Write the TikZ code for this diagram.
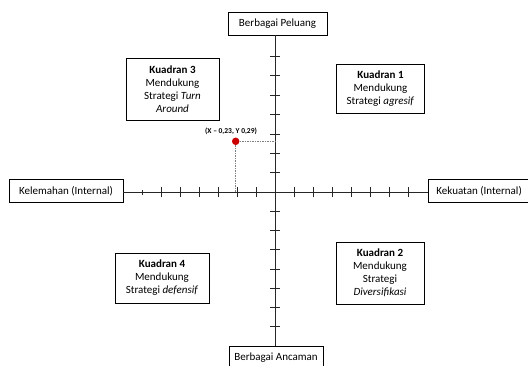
\documentclass[tikz,border=0pt]{standalone}
\usepackage{fontspec}
\setmainfont{Carlito}

\begin{document}
\begin{tikzpicture}[x=1pt, y=1pt,
    font=\fontsize{11}{13}\selectfont,
    axisbox/.style ={draw, thick, minimum height=23pt, inner sep=2pt},
    kuadran/.style ={draw, thick, align=center, inner sep=3pt},
    axisline/.style ={line width=0.8pt, black!85},
    tick/.style ={line width=0.6pt, black!85},
    guide/.style ={gray, line width=0.7pt, dash pattern=on 1.5pt off 1pt},
    dot/.style ={circle, fill=red!80!black, inner sep=0pt, minimum size=7.5pt}]
   \useasboundingbox (-275,-173) rectangle (253,192);
   \coordinate (O) at (0,0);

   \node[axisbox, minimum width=99pt] (peluang) at (2.5,168.5) {Berbagai Peluang};
   \node[axisbox, minimum width=94pt] (ancaman) at (1,-166) {Berbagai Ancaman};
   \node[axisbox, minimum width=114pt] (kelemahan) at (-209,1) {Kelemahan (Internal)};
   \node[axisbox, inner xsep=8pt, anchor=west] (kekuatan) at (153,1) {Kekuatan (Internal)};

   \node[kuadran, minimum width=93pt, minimum height=62pt] (k3) at (-102.5,102.5)
      {\textbf{Kuadran 3}\\Mendukung\\Strategi \textit{Turn}\\\textit{Around}};
   \node[kuadran, minimum width=88pt, minimum height=49pt] (k1) at (105.5,103.5)
      {\textbf{Kuadran 1}\\Mendukung\\Strategi \textit{agresif}};
   \node[kuadran, minimum width=94pt, minimum height=50pt] (k4) at (-113,-86)
      {\textbf{Kuadran 4}\\Mendukung\\Strategi \textit{defensif}};
   \node[kuadran, minimum width=88pt, minimum height=62pt] (k2) at (105,-81)
      {\textbf{Kuadran 2}\\Mendukung\\Strategi\\\textit{Diversifikasi}};

   % axes
   \draw[axisline] (peluang.south -| O) -- (ancaman.north -| O);
   \draw[axisline] (kelemahan.east |- O) -- (kekuatan.west |- O);
   \foreach \k in {1,...,7} {
      \draw[tick] (-5,19.4*\k) -- (5,19.4*\k);
      \draw[tick] (-5,-19.2*\k) -- (5,-19.2*\k);
      \draw[tick] (19.1*\k,-5) -- (19.1*\k,5);
   }
   \foreach \k in {1,...,6}
      \draw[tick] (-19*\k,-5) -- (-19*\k,5);
   \draw[tick] (-132.5,-3) -- (-132.5,2);

   % posisi
   \node[dot] (titik) at (-39.3,50.7) {};
   \draw[guide] (titik) -- (titik -| O);
   \draw[guide] (titik) -- (titik |- O);
   \node[font=\fontsize{7.5}{9}\selectfont\bfseries] (label) at (-44,60.5) {(X -- 0,23, Y 0,29)};
 \end{tikzpicture}
\end{document}
